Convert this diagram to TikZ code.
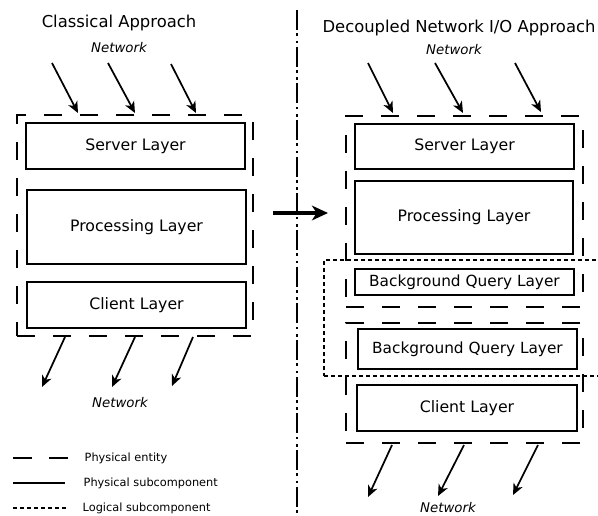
\documentclass[tikz,border=0pt]{standalone}
\usepackage{fontspec}
\setmainfont{DejaVu Sans}
\usetikzlibrary{arrows.meta, positioning, fit}
\tikzset{>={Stealth[length=8.5pt,width=7.5pt,inset=2.5pt]}}

\begin{document}
\begin{tikzpicture}[x=0.75pt, y=-0.75pt,
    layer/.style={draw, line width=1.8pt, inner sep=0pt},
    lbl/.style={font=\fontsize{11.8}{14}\selectfont},
    entity/.style={draw, line width=1.3pt, dash pattern=on 13.5pt off 13.5pt, inner sep=0pt},
    logical/.style={draw, line width=1.2pt, dash pattern=on 3pt off 2.25pt, inner sep=0pt},
    title/.style={font=\fontsize{12.3}{14}\selectfont},
    net/.style={font=\fontsize{10}{12}\selectfont\itshape},
    legend/.style={font=\fontsize{8.5}{10}\selectfont, anchor=west},
    flow/.style={->, line width=1.3pt}]
  \useasboundingbox (0,0) rectangle (598,515);

  % separator between the two approaches
  \draw[line width=1.2pt, dash pattern=on 15pt off 2.5pt on 2pt off 3.5pt on 2pt off 2.5pt] (297,10) -- (297,515);

  % classical approach
  \node[title] (titL) at (119,23) {Classical Approach};
  \node[net] (netLin) at (119,48) {Network};
  \node[entity, fit={(17,115) (253,336)}] (entL) {};
  \node[layer, fit={(26,123) (245,169)}] (srvL) {};
  \node[layer, fit={(27,190) (246,264)}] (procL) {};
  \node[layer, fit={(27,282) (246,328)}] (cliL) {};
  \node[lbl] at (srvL.center) {Server Layer};
  \node[lbl] at (procL.center) {Processing Layer};
  \node[lbl] at (cliL.center) {Client Layer};
  \node[net] (netLout) at (120,403) {Network};

  \coordinate (inL1) at (52,63);   \coordinate (inL1e) at (78,113);
  \coordinate (inL2) at (108,63);  \coordinate (inL2e) at (135,113);
  \coordinate (inL3) at (171,64);  \coordinate (inL3e) at (196,113);
  \draw[flow] (inL1) -- (inL1e);
  \draw[flow] (inL2) -- (inL2e);
  \draw[flow] (inL3) -- (inL3e);

  \coordinate (outL1) at (65,337);  \coordinate (outL1e) at (42,387);
  \coordinate (outL2) at (135,337); \coordinate (outL2e) at (112,387);
  \coordinate (outL3) at (193,337); \coordinate (outL3e) at (172,386);
  \draw[flow] (outL1) -- (outL1e);
  \draw[flow] (outL2) -- (outL2e);
  \draw[flow] (outL3) -- (outL3e);

  % transition
  \coordinate (go) at (273,213);
  \coordinate (goe) at (328,213);
  \draw[-{Stealth[length=12pt,width=11pt,inset=3.5pt]}, line width=2.5pt] (go) -- (goe);

  % decoupled approach
  \node[title] (titR) at (459,28) {Decoupled Network I/O Approach};
  \node[net] (netRin) at (454,50) {Network};
  \node[logical, fit={(324,260) (640,376)}] (bgq) {};
  \node[entity, fit={(346,116) (583,307)}] (entRa) {};
  \node[entity, fit={(346,323) (583,443)}] (entRb) {};
  \node[layer, fit={(355,124) (574,169)}] (srvR) {};
  \node[layer, fit={(355,181) (573,254)}] (procR) {};
  \node[layer, fit={(355,269) (574,295)}] (bgqRa) {};
  \node[layer, fit={(358,329) (577,369)}] (bgqRb) {};
  \node[layer, fit={(357,385) (577,431)}] (cliR) {};
  \node[lbl] at (srvR.center) {Server Layer};
  \node[lbl] at (procR.center) {Processing Layer};
  \node[lbl, font=\fontsize{11.5}{14}\selectfont] at (bgqRa.center) {Background Query Layer};
  \node[lbl, font=\fontsize{11.5}{14}\selectfont] at (bgqRb.center) {Background Query Layer};
  \node[lbl] at (cliR.center) {Client Layer};
  \node[net] (netRout) at (448,508) {Network};

  \coordinate (inR1) at (368,63);  \coordinate (inR1e) at (393,113);
  \coordinate (inR2) at (435,63);  \coordinate (inR2e) at (463,113);
  \coordinate (inR3) at (515,63);  \coordinate (inR3e) at (541,112);
  \draw[flow] (inR1) -- (inR1e);
  \draw[flow] (inR2) -- (inR2e);
  \draw[flow] (inR3) -- (inR3e);

  \coordinate (outR1) at (392,445); \coordinate (outR1e) at (368,497);
  \coordinate (outR2) at (464,445); \coordinate (outR2e) at (438,496);
  \coordinate (outR3) at (538,445); \coordinate (outR3e) at (513,495);
  \draw[flow] (outR1) -- (outR1e);
  \draw[flow] (outR2) -- (outR2e);
  \draw[flow] (outR3) -- (outR3e);

  % legend
  \draw[line width=1.3pt, dash pattern=on 14pt off 13pt] (13,458) -- (68,458);
  \draw[line width=1.3pt] (13,483) -- (65,483);
  \draw[line width=1.2pt, dash pattern=on 3pt off 2.25pt] (13,508) -- (68,508);
  \node[legend] (legEnt) at (80,458) {Physical entity};
  \node[legend] (legSub) at (79,483) {Physical subcomponent};
  \node[legend] (legLog) at (78,508) {Logical subcomponent};
\end{tikzpicture}
\end{document}
